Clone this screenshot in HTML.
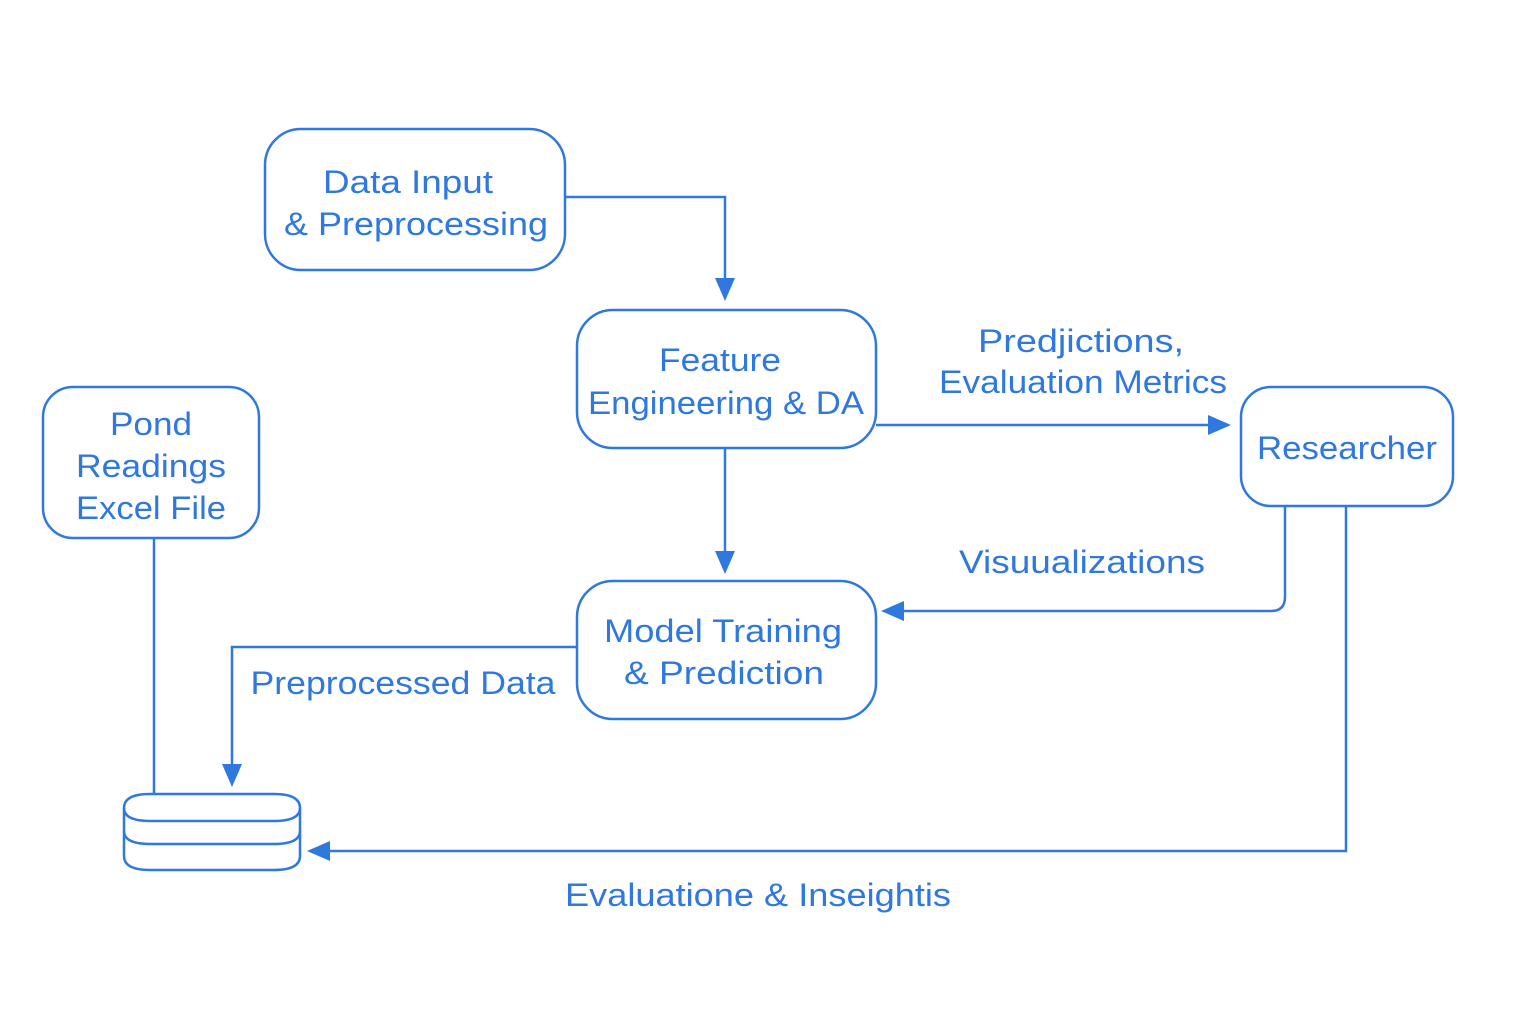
<!DOCTYPE html>
<html><head><meta charset="utf-8"><style>html,body{margin:0;padding:0;background:#fff}</style></head>
<body>
<svg width="1536" height="1024" viewBox="0 0 1536 1024" xmlns="http://www.w3.org/2000/svg">
<defs>
<marker id="a" markerWidth="10" markerHeight="10" refX="9" refY="5" orient="auto" markerUnits="userSpaceOnUse" viewBox="0 0 10 10">
<path d="M0,0 L10,5 L0,10 z" fill="#2f78e0"/></marker>
</defs>
<g fill="none" stroke="#2f78e0" stroke-width="2.5">
<rect x="265" y="129" width="300" height="141" rx="36"/>
<rect x="577" y="310" width="299" height="138" rx="36"/>
<rect x="577" y="581" width="299" height="138" rx="36"/>
<rect x="43" y="387" width="216" height="151" rx="30"/>
<rect x="1241" y="387" width="212" height="119" rx="30"/>
<!-- cylinder -->
<path d="M124,808 Q124,794 150,794 L274,794 Q300,794 300,808 Q300,821 274,821 L150,821 Q124,821 124,808 Z"/>
<path d="M124,808 L124,856 Q124,870 150,870 L274,870 Q300,870 300,856 L300,808"/>
<path d="M124,831 Q124,844 150,844 L274,844 Q300,844 300,831"/>
<!-- connectors -->
<path d="M565,197 L725,197 L725,282"/>
<path d="M725,448 L725,555"/>
<path d="M876,425 L1212,425"/>
<path d="M1285,506 L1285,597 Q1285,611 1271,611 L902,611"/>
<path d="M1346,506 L1346,851 L328,851"/>
<path d="M577,647 L232,647 L232,768"/>
<path d="M154,538 L154,794"/>
</g>
<g fill="#2f78e0">
<path d="M715,278 L735,278 L725,301 Z"/>
<path d="M715,551 L735,551 L725,574 Z"/>
<path d="M1208,415 L1208,435 L1231,425 Z"/>
<path d="M904,601 L904,621 L881,611 Z"/>
<path d="M330,841 L330,861 L307,851 Z"/>
<path d="M222,764 L242,764 L232,787 Z"/>
</g>
<g fill="#2f78e0" font-family="Liberation Sans, sans-serif" font-size="32" text-anchor="middle">
<text x="408" y="193" textLength="170" lengthAdjust="spacingAndGlyphs">Data Input</text>
<text x="416" y="235" textLength="264" lengthAdjust="spacingAndGlyphs">&amp; Preprocessing</text>
<text x="720" y="371" textLength="122" lengthAdjust="spacingAndGlyphs">Feature</text>
<text x="726" y="414" textLength="276" lengthAdjust="spacingAndGlyphs">Engineering &amp; DA</text>
<text x="723" y="642" textLength="238" lengthAdjust="spacingAndGlyphs">Model Training</text>
<text x="724" y="684" textLength="200" lengthAdjust="spacingAndGlyphs">&amp; Prediction</text>
<text x="151" y="435" textLength="82" lengthAdjust="spacingAndGlyphs">Pond</text>
<text x="151" y="477" textLength="150" lengthAdjust="spacingAndGlyphs">Readings</text>
<text x="151" y="519" textLength="150" lengthAdjust="spacingAndGlyphs">Excel File</text>
<text x="1347" y="459" textLength="180" lengthAdjust="spacingAndGlyphs">Researcher</text>
<text x="1081" y="352" textLength="206" lengthAdjust="spacingAndGlyphs">Predjictions,</text>
<text x="1083" y="393" textLength="288" lengthAdjust="spacingAndGlyphs">Evaluation Metrics</text>
<text x="1082" y="573" textLength="246" lengthAdjust="spacingAndGlyphs">Visuualizations</text>
<text x="403" y="694" textLength="305" lengthAdjust="spacingAndGlyphs">Preprocessed Data</text>
<text x="758" y="906" textLength="386" lengthAdjust="spacingAndGlyphs">Evaluatione &amp; Inseightis</text>
</g>
</svg>
</body></html>
